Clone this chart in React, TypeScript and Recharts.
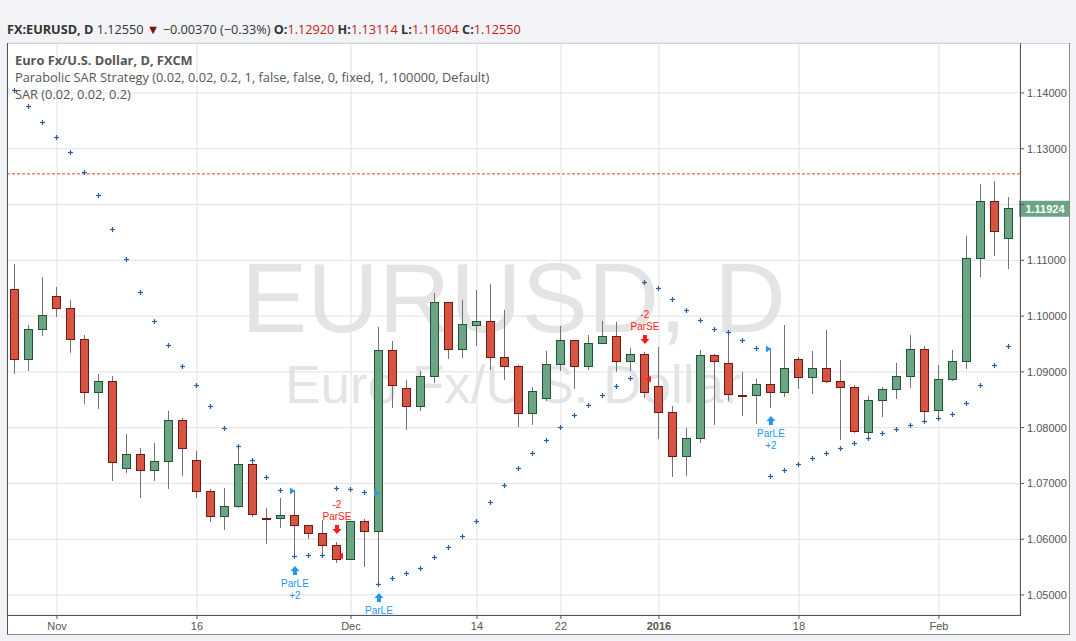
import React from "react";
import { ComposedChart, Bar, Scatter, XAxis, YAxis, CartesianGrid, ReferenceLine } from "recharts";

// ---- data ----
const dates = [
  "2015-10-28", "2015-10-29", "2015-10-30",
  "2015-11-02", "2015-11-03", "2015-11-04", "2015-11-05", "2015-11-06",
  "2015-11-09", "2015-11-10", "2015-11-11", "2015-11-12", "2015-11-13",
  "2015-11-16", "2015-11-17", "2015-11-18", "2015-11-19", "2015-11-20",
  "2015-11-23", "2015-11-24", "2015-11-25", "2015-11-26", "2015-11-27",
  "2015-11-30", "2015-12-01", "2015-12-02", "2015-12-03", "2015-12-04",
  "2015-12-07", "2015-12-08", "2015-12-09", "2015-12-10", "2015-12-11",
  "2015-12-14", "2015-12-15", "2015-12-16", "2015-12-17", "2015-12-18",
  "2015-12-21", "2015-12-22", "2015-12-23", "2015-12-24",
  "2015-12-28", "2015-12-29", "2015-12-30", "2015-12-31",
  "2016-01-04", "2016-01-05", "2016-01-06", "2016-01-07", "2016-01-08",
  "2016-01-11", "2016-01-12", "2016-01-13", "2016-01-14", "2016-01-15",
  "2016-01-18", "2016-01-19", "2016-01-20", "2016-01-21", "2016-01-22",
  "2016-01-25", "2016-01-26", "2016-01-27", "2016-01-28", "2016-01-29",
  "2016-02-01", "2016-02-02", "2016-02-03", "2016-02-04", "2016-02-05",
  "2016-02-08",
];

const opens = [
  1.10468, 1.09213, 1.09751, 1.10343, 1.10128, 1.09572, 1.08622, 1.08819, 1.07259, 1.07510,
  1.07223, 1.07385, 1.08120, 1.07403, 1.06847, 1.06399, 1.06578, 1.07331, 1.06363, 1.06363,
  1.06417, 1.06237, 1.06094, 1.05879, 1.05628, 1.06309, 1.06130, 1.09375, 1.08693, 1.08371,
  1.08908, 1.10235, 1.09393, 1.09823, 1.09895, 1.09249, 1.09088, 1.08245, 1.08514, 1.09124,
  1.09554, 1.09088, 1.09500, 1.09626, 1.09177, 1.09303, 1.08729, 1.08263, 1.07474, 1.07797,
  1.09285, 1.09142, 1.08568, 1.08568, 1.08765, 1.08622, 1.09213, 1.08891, 1.09052, 1.08819,
  1.08711, 1.07904, 1.08478, 1.08675, 1.08908, 1.09393, 1.08299, 1.08855, 1.09177, 1.11024,
  1.12046, 1.11383,
];
const highs = [
  1.10934, 1.09841, 1.10701, 1.10522, 1.10289, 1.09661, 1.08962, 1.08926, 1.07887, 1.07636,
  1.07725, 1.08299, 1.08173, 1.07582, 1.06901, 1.06918, 1.07618, 1.07403, 1.06560, 1.06739,
  1.06883, 1.06237, 1.06345, 1.05950, 1.06309, 1.06363, 1.09805, 1.09554, 1.08855, 1.09016,
  1.10414, 1.10235, 1.10289, 1.10468, 1.10576, 1.10110, 1.09124, 1.08729, 1.09375, 1.09823,
  1.09554, 1.09661, 1.09912, 1.09895, 1.09428, 1.09357, 1.09446, 1.08389, 1.07994, 1.09393,
  1.09321, 1.09715, 1.08998, 1.08873, 1.09428, 1.09841, 1.09267, 1.09375, 1.09751, 1.09213,
  1.08765, 1.08568, 1.08729, 1.09159, 1.09661, 1.09464, 1.09124, 1.09393, 1.11436, 1.12369,
  1.12422, 1.12135,
];
const lows = [
  1.08962, 1.09016, 1.09643, 1.09984, 1.09339, 1.08424, 1.08335, 1.07044, 1.07187, 1.06739,
  1.07044, 1.06901, 1.07134, 1.06739, 1.06309, 1.06166, 1.06560, 1.06399, 1.05915, 1.06201,
  1.05664, 1.06004, 1.05717, 1.05574, 1.05628, 1.05502, 1.05179, 1.08353, 1.07958, 1.08299,
  1.08801, 1.09231, 1.09249, 1.09464, 1.09034, 1.08855, 1.08012, 1.08048, 1.08478, 1.09016,
  1.08693, 1.09034, 1.09500, 1.08998, 1.09016, 1.08532, 1.07797, 1.07116, 1.07134, 1.07725,
  1.08048, 1.08478, 1.08209, 1.08066, 1.08353, 1.08550, 1.08693, 1.08604, 1.08801, 1.07779,
  1.07904, 1.07815, 1.08191, 1.08514, 1.08711, 1.08102, 1.08155, 1.08837, 1.09052, 1.10701,
  1.11078, 1.10845,
];
const closes = [
  1.09213, 1.09751, 1.10002, 1.10128, 1.09572, 1.08622, 1.08819, 1.07367, 1.07510, 1.07223,
  1.07385, 1.08120, 1.07618, 1.06847, 1.06399, 1.06578, 1.07331, 1.06434, 1.06354, 1.06417,
  1.06237, 1.06094, 1.05879, 1.05628, 1.06309, 1.06130, 1.09375, 1.08747, 1.08371, 1.08908,
  1.10235, 1.09393, 1.09841, 1.09895, 1.09249, 1.09088, 1.08245, 1.08640, 1.09124, 1.09554,
  1.09088, 1.09500, 1.09626, 1.09177, 1.09303, 1.08622, 1.08263, 1.07474, 1.07797, 1.09285,
  1.09177, 1.08586, 1.08559, 1.08765, 1.08622, 1.09052, 1.08891, 1.09052, 1.08819, 1.08711,
  1.07922, 1.08478, 1.08675, 1.08908, 1.09393, 1.08281, 1.08855, 1.09177, 1.11024, 1.12046,
  1.11508, 1.11924,
];
const sarValues = [
  1.14036, 1.13749, 1.13462, 1.13193, 1.12924, 1.12566, 1.12153, 1.11544, 1.11006, 1.10414,
  1.09895, 1.09464, 1.09088, 1.08747, 1.08371, 1.07976, 1.07654, 1.07403, 1.07098, 1.06865,
  1.05681, 1.05699, 1.05699, 1.06901, 1.06883, 1.06829, 1.05179, 1.05287, 1.05377, 1.05466,
  1.05664, 1.05843, 1.06040, 1.06309, 1.06650, 1.06954, 1.07259, 1.07528, 1.07761, 1.07994,
  1.08209, 1.08389, 1.08568, 1.08729, 1.08873, 1.10594, 1.10486, 1.10289, 1.10092, 1.09912,
  1.09751, 1.09697, 1.09554, 1.09410, 1.07116, 1.07223, 1.07331, 1.07438, 1.07528, 1.07618,
  1.07707, 1.07797, 1.07887, 1.07958, 1.08030, 1.08102, 1.08155, 1.08227, 1.08424, 1.08747,
  1.09106, 1.09446,
];

const tickIdx = [3, 13, 24, 33, 39, 46, 56, 66];
const tickLabels = ["Nov", "16", "Dec", "14", "22", "2016", "18", "Feb"];
const priceTicks = [1.05, 1.06, 1.07, 1.08, 1.09, 1.1, 1.11, 1.12, 1.13, 1.14];

const longIdx = [20, 26, 54];
const longQty = ["+2", "", "+2"];
const longStop = [1.06865, 1.06829, 1.0941];
const shortIdx = [23, 45];
const shortQty = ["-2", "-2"];
const shortStop = [1.05699, 1.08873];

const lastClose = 1.11924;
const alertLevel = 1.1255;

// ---- derived tables ----
const rows = dates.map((d, i) => ({
  i,
  date: d,
  open: opens[i],
  high: highs[i],
  low: lows[i],
  close: closes[i],
  range: [lows[i], highs[i]],
  sar: sarValues[i],
}));
const longRows = longIdx.map((i, k) => ({ i, low: lows[i], qty: longQty[k] }));
const longStopRows = longIdx.map((i, k) => ({ i, level: longStop[k] }));
const shortRows = shortIdx.map((i, k) => ({ i, high: highs[i], qty: shortQty[k] }));
const shortStopRows = shortIdx.map((i, k) => ({ i, level: shortStop[k] }));

const AXIS_FONT = "'Liberation Sans', Arial, sans-serif";
const UI_FONT = "'Open Sans', 'Liberation Sans', sans-serif";
const UP_FILL = "#6ba583";
const UP_LINE = "#225437";
const DN_FILL = "#d75442";
const DN_LINE = "#6f1a13";
const BLUE = "#2196f3";
const RED = "#ff1a1a";
const SIG_FONT = 10;

const snap = (v: number) => Math.round(v) + 0.5;

const Candle = (props: any) => {
  const { x, y, width, height, payload } = props;
  if (x == null || y == null) return <g />;
  const { open, close, high, low } = payload;
  const cx = snap(x + width / 2 - 0.5);
  const py = (v: number) => y + ((high - v) / (high - low)) * height;
  const up = close >= open;
  let top = snap(py(Math.max(open, close)) - 0.5);
  let bot = snap(py(Math.min(open, close)) - 0.5);
  if (bot - top < 1) bot = top + 1;
  return (
    <g>
      <line x1={cx} x2={cx} y1={y} y2={y + height} stroke="#737375" strokeWidth={1} />
      <rect
        x={cx - 4}
        y={top}
        width={8}
        height={bot - top}
        fill={up ? UP_FILL : DN_FILL}
        stroke={up ? UP_LINE : DN_LINE}
        strokeWidth={1}
      />
    </g>
  );
};

const SarCross = (props: any) => {
  const { cx, cy } = props;
  if (cx == null) return <g />;
  const x = snap(cx - 0.5);
  const y = snap(cy - 0.5);
  return (
    <g stroke="#2f5e9c" strokeWidth={1.2}>
      <line x1={x - 2.5} x2={x + 2.5} y1={y} y2={y} />
      <line x1={x} x2={x} y1={y - 2.5} y2={y + 2.5} />
    </g>
  );
};

const LongEntry = (props: any) => {
  const { cx, cy, payload } = props;
  if (cx == null) return <g />;
  const t = cy + 8;
  return (
    <g>
      <path
        d={`M${cx},${t} L${cx + 4.5},${t + 5} L${cx + 2},${t + 5} L${cx + 2},${t + 9} L${cx - 2},${t + 9} L${cx - 2},${t + 5} L${cx - 4.5},${t + 5} Z`}
        fill={BLUE}
      />
      <text x={cx} y={cy + 29} textAnchor="middle" fontSize={SIG_FONT} fontFamily={AXIS_FONT} fill={BLUE}>
        ParLE
      </text>
      {payload.qty ? (
        <text x={cx} y={cy + 41} textAnchor="middle" fontSize={SIG_FONT} fontFamily={AXIS_FONT} fill={BLUE}>
          {payload.qty}
        </text>
      ) : null}
    </g>
  );
};

const ShortEntry = (props: any) => {
  const { cx, cy, payload } = props;
  if (cx == null) return <g />;
  const b = cy - 8;
  return (
    <g>
      <path
        d={`M${cx},${b} L${cx + 4.5},${b - 5} L${cx + 2},${b - 5} L${cx + 2},${b - 9} L${cx - 2},${b - 9} L${cx - 2},${b - 5} L${cx - 4.5},${b - 5} Z`}
        fill={RED}
      />
      <text x={cx} y={cy - 22} textAnchor="middle" fontSize={SIG_FONT} fontFamily={AXIS_FONT} fill={RED}>
        ParSE
      </text>
      <text x={cx} y={cy - 34} textAnchor="middle" fontSize={SIG_FONT} fontFamily={AXIS_FONT} fill={RED}>
        {payload.qty}
      </text>
    </g>
  );
};

const LongStop = (props: any) => {
  const { cx, cy } = props;
  if (cx == null) return <g />;
  return <path d={`M${cx - 5},${cy - 3.5} L${cx},${cy} L${cx - 5},${cy + 3.5} Z`} fill={BLUE} />;
};

const ShortStop = (props: any) => {
  const { cx, cy } = props;
  if (cx == null) return <g />;
  return <path d={`M${cx + 6},${cy - 3.5} L${cx + 1},${cy} L${cx + 6},${cy + 3.5} Z`} fill={RED} />;
};

const XTick = (props: any) => {
  const { x, y, payload } = props;
  const k = tickIdx.indexOf(payload.value);
  const label = k >= 0 ? tickLabels[k] : "";
  return (
    <text
      x={x}
      y={y + 9}
      textAnchor="middle"
      fontSize={11}
      fontFamily={AXIS_FONT}
      fontWeight={label === "2016" ? "bold" : "normal"}
      fill="#555"
    >
      {label}
    </text>
  );
};

const YTick = (props: any) => {
  const { x, y, payload } = props;
  const v = payload.value as number;
  if (Math.abs(v - lastClose) < 0.003) return <g />;
  return (
    <text x={x} y={y + 4} textAnchor="start" fontSize={11} fontFamily={AXIS_FONT} fill="#555">
      {v.toFixed(5)}
    </text>
  );
};

const PriceTag = (props: any) => {
  const vb = props.viewBox || {};
  const left = (vb.x || 0) + (vb.width || 0) - 1;
  const cy = vb.y || 0;
  return (
    <g>
      <rect x={left} y={cy - 8} width={50} height={16} fill={UP_FILL} />
      <text
        x={left + 26}
        y={cy + 4}
        textAnchor="middle"
        fontSize={11}
        fontWeight="bold"
        fontFamily={AXIS_FONT}
        fill="#ffffff"
      >
        {lastClose.toFixed(5)}
      </text>
    </g>
  );
};

export default function App() {
  return (
    <div
      style={{
        position: "absolute",
        left: 0,
        top: 0,
        width: 1076,
        height: 641,
        background: "#f1f3f6",
        overflow: "hidden",
      }}
    >
      {/* underlay: white panel and watermark */}
      <svg width={1076} height={641} style={{ position: "absolute", left: 0, top: 0 }}>
        <rect x={7} y={43} width={1062} height={592} fill="#ffffff" />
        <text
          x={513.5}
          y={332}
          textAnchor="middle"
          fontSize={99}
          fontFamily={AXIS_FONT}
          fill="#e4e4e4"
        >
          EURUSD, D
        </text>
        <text
          x={513.5}
          y={403}
          textAnchor="middle"
          fontSize={53}
          fontFamily={AXIS_FONT}
          fill="#e4e4e4"
        >
          Euro Fx/U.S. Dollar
        </text>
      </svg>

      <div style={{ position: "absolute", left: 0, top: 0 }}>
        <ComposedChart
          width={1076}
          height={641}
          data={rows}
          margin={{ top: 43, right: 7, bottom: 6, left: 7 }}
        >
          <CartesianGrid stroke="#e1e1e1" strokeWidth={1} />
          <XAxis
            dataKey="i"
            type="number"
            domain={[-0.57, 71.79]}
            allowDataOverflow
            ticks={tickIdx}
            interval={0}
            height={20}
            axisLine={false}
            tickLine={{ stroke: "#555" }}
            tickSize={4}
            tickMargin={2}
            tick={<XTick />}
          />
          <YAxis
            orientation="right"
            type="number"
            domain={[1.04641, 1.14896]}
            allowDataOverflow
            ticks={priceTicks}
            interval={0}
            width={49}
            axisLine={false}
            tickLine={{ stroke: "#555" }}
            tickSize={4}
            tickMargin={3}
            tick={<YTick />}
          />
          <ReferenceLine y={alertLevel} stroke="#e8472f" strokeDasharray="3 2" strokeWidth={1} />
          <Bar dataKey="range" barSize={9} shape={<Candle />} isAnimationActive={false} />
          <Scatter dataKey="sar" shape={<SarCross />} isAnimationActive={false} />
          <Scatter data={longStopRows} dataKey="level" shape={<LongStop />} isAnimationActive={false} />
          <Scatter data={shortStopRows} dataKey="level" shape={<ShortStop />} isAnimationActive={false} />
          <Scatter data={longRows} dataKey="low" shape={<LongEntry />} isAnimationActive={false} />
          <Scatter data={shortRows} dataKey="high" shape={<ShortEntry />} isAnimationActive={false} />
          <ReferenceLine y={lastClose} stroke="none" label={<PriceTag />} />
        </ComposedChart>
      </div>

      {/* overlay: frame, header and legend */}
      <svg
        width={1076}
        height={641}
        style={{ position: "absolute", left: 0, top: 0, pointerEvents: "none" }}
      >
        <line x1={7} x2={1070} y1={43.5} y2={43.5} stroke="#cfd4d9" />
        <line x1={7.5} x2={7.5} y1={43} y2={635} stroke="#555" />
        <line x1={1069.5} x2={1069.5} y1={43} y2={635} stroke="#8a8a8a" />
        <line x1={7} x2={1070} y1={634.5} y2={634.5} stroke="#8a8a8a" />
        <line x1={1020.5} x2={1020.5} y1={43} y2={616} stroke="#555" />
        <line x1={7} x2={1021} y1={615.5} y2={615.5} stroke="#555" />

        <text x={7} y={34} fontSize={12.7} fontFamily={UI_FONT} fill="#333">
          <tspan fontWeight="bold">FX:EURUSD, D</tspan>
          <tspan> 1.12550 </tspan>
          <tspan fill="#8b0000">▼</tspan>
          <tspan> −0.00370 (−0.33%) </tspan>
          <tspan fontWeight="bold">O:</tspan>
          <tspan fill="#c41a1a">1.12920</tspan>
          <tspan fontWeight="bold"> H:</tspan>
          <tspan fill="#c41a1a">1.13114</tspan>
          <tspan fontWeight="bold"> L:</tspan>
          <tspan fill="#c41a1a">1.11604</tspan>
          <tspan fontWeight="bold"> C:</tspan>
          <tspan fill="#c41a1a">1.12550</tspan>
        </text>

        <text x={15} y={65} fontSize={12.8} fontFamily={UI_FONT} fontWeight="bold" fill="#555">
          Euro Fx/U.S. Dollar, D, FXCM
        </text>
        <text x={15} y={82} fontSize={12.8} fontFamily={UI_FONT} fill="#555">
          Parabolic SAR Strategy (0.02, 0.02, 0.2, 1, false, false, 0, fixed, 1, 100000, Default)
        </text>
        <text x={15} y={99} fontSize={12.8} fontFamily={UI_FONT} fill="#555">
          SAR (0.02, 0.02, 0.2)
        </text>
      </svg>
    </div>
  );
}
